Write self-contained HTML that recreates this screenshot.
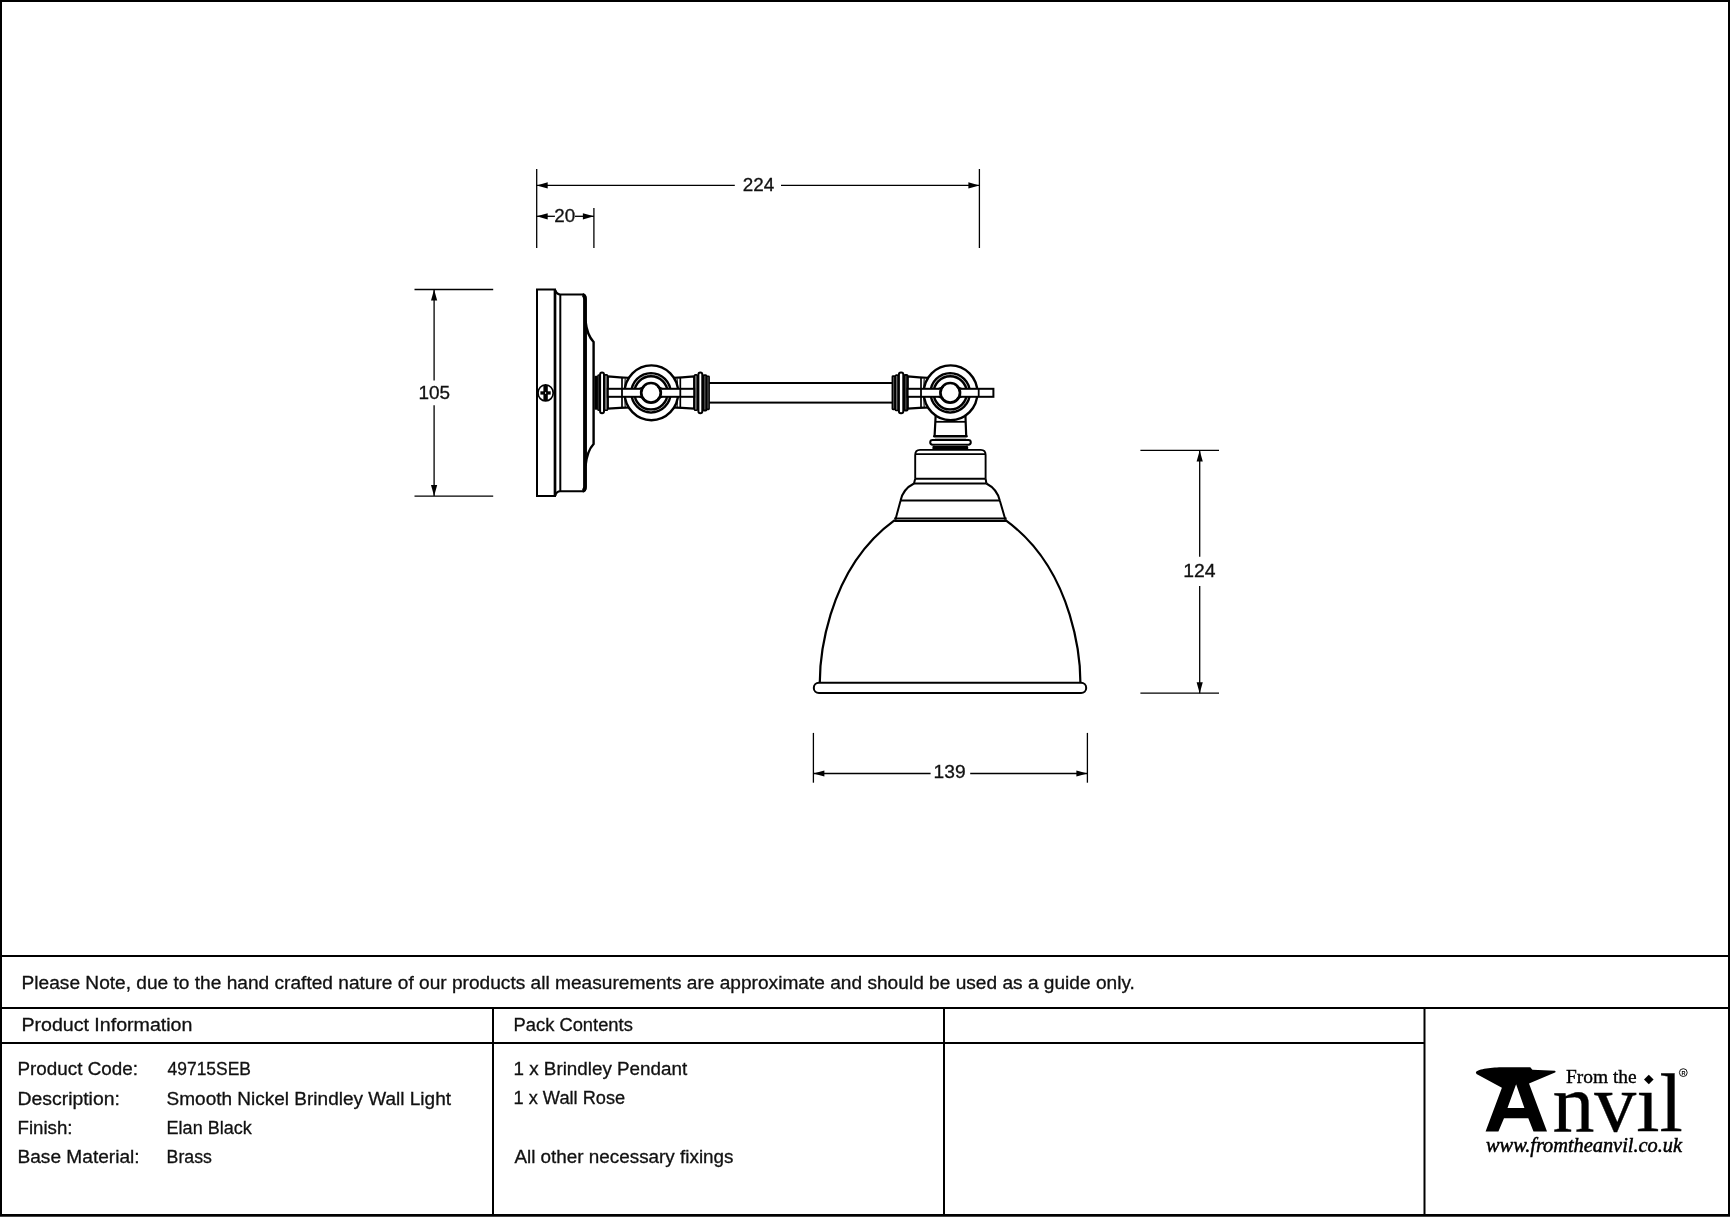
<!DOCTYPE html>
<html><head><meta charset="utf-8"><title>Brindley Wall Light</title>
<style>
html,body{margin:0;padding:0;background:#fff;width:1730px;height:1217px;overflow:hidden;}
svg{position:absolute;left:0;top:0;display:block;}
.t text{font-family:"Liberation Sans",sans-serif;font-size:18px;fill:#111;stroke:#111;stroke-width:0.3px;}
svg{will-change:transform;}
</style></head><body>
<svg width="1730" height="1217" viewBox="0 0 1730 1217">
<rect x="0" y="0" width="1730" height="1217" fill="#fff"/>

<rect x="0" y="0" width="1730" height="2" fill="#000"/>
<rect x="0" y="0" width="2" height="1216" fill="#000"/>
<rect x="1728" y="0" width="2" height="1216" fill="#000"/>
<rect x="0" y="1214" width="1730" height="2" fill="#000"/>
<rect x="0" y="1216" width="1730" height="1" fill="#444"/>
<rect x="0" y="955" width="1730" height="2" fill="#000"/>
<rect x="0" y="1007" width="1730" height="2" fill="#000"/>
<rect x="0" y="1042" width="1424" height="2" fill="#000"/>
<rect x="492" y="1007" width="2" height="208" fill="#000"/>
<rect x="943" y="1007" width="2" height="208" fill="#000"/>
<rect x="1423.5" y="1007" width="2" height="208" fill="#000"/>

<g class="dims">
<line x1="536.7" y1="169" x2="536.7" y2="248" stroke="#000" stroke-width="1.3"/>
<line x1="979.4" y1="169" x2="979.4" y2="248" stroke="#000" stroke-width="1.3"/>
<line x1="536.7" y1="185.4" x2="734.8" y2="185.4" stroke="#000" stroke-width="1.3"/>
<line x1="781" y1="185.4" x2="979.4" y2="185.4" stroke="#000" stroke-width="1.3"/>
<polygon points="536.70,185.40 547.70,182.30 547.70,188.50" fill="#000"/>
<polygon points="979.40,185.40 968.40,182.30 968.40,188.50" fill="#000"/>
<line x1="593.9" y1="208" x2="593.9" y2="248" stroke="#000" stroke-width="1.3"/>
<line x1="536.7" y1="216.3" x2="554.9" y2="216.3" stroke="#000" stroke-width="1.3"/>
<line x1="575" y1="216.3" x2="593.9" y2="216.3" stroke="#000" stroke-width="1.3"/>
<polygon points="536.70,216.30 547.70,213.20 547.70,219.40" fill="#000"/>
<polygon points="593.90,216.30 582.90,213.20 582.90,219.40" fill="#000"/>
<line x1="414.5" y1="289.5" x2="493.2" y2="289.5" stroke="#000" stroke-width="1.3"/>
<line x1="414.5" y1="496.1" x2="493.2" y2="496.1" stroke="#000" stroke-width="1.3"/>
<line x1="434.1" y1="289.5" x2="434.1" y2="380.4" stroke="#000" stroke-width="1.3"/>
<line x1="434.1" y1="405.3" x2="434.1" y2="496.1" stroke="#000" stroke-width="1.3"/>
<polygon points="434.10,289.50 431.00,300.50 437.20,300.50" fill="#000"/>
<polygon points="434.10,496.10 431.00,485.10 437.20,485.10" fill="#000"/>
<line x1="1140.4" y1="450.4" x2="1219" y2="450.4" stroke="#000" stroke-width="1.3"/>
<line x1="1140.4" y1="693.2" x2="1219" y2="693.2" stroke="#000" stroke-width="1.3"/>
<line x1="1199.7" y1="450.4" x2="1199.7" y2="556.8" stroke="#000" stroke-width="1.3"/>
<line x1="1199.7" y1="586" x2="1199.7" y2="693.2" stroke="#000" stroke-width="1.3"/>
<polygon points="1199.70,450.40 1196.60,461.40 1202.80,461.40" fill="#000"/>
<polygon points="1199.70,693.20 1196.60,682.20 1202.80,682.20" fill="#000"/>
<line x1="813.4" y1="732.9" x2="813.4" y2="782.7" stroke="#000" stroke-width="1.3"/>
<line x1="1087.4" y1="732.9" x2="1087.4" y2="782.7" stroke="#000" stroke-width="1.3"/>
<line x1="813.4" y1="773.5" x2="930.6" y2="773.5" stroke="#000" stroke-width="1.3"/>
<line x1="970.2" y1="773.5" x2="1087.4" y2="773.5" stroke="#000" stroke-width="1.3"/>
<polygon points="813.40,773.50 824.40,770.40 824.40,776.60" fill="#000"/>
<polygon points="1087.40,773.50 1076.40,770.40 1076.40,776.60" fill="#000"/>
</g>
<g class="drawing">
<path d="M537,289.6 H555 V496 H537 Z" fill="#fff" stroke="#000" stroke-width="2" />
<path d="M555,289.6 Q556.5,294.4 560.3,294.4 H582 Q585.5,294.4 585.5,298 V487.7 Q585.5,491.3 582,491.3 H560.3 Q556.5,491.3 555,496" fill="#fff" stroke="#000" stroke-width="2" />
<path d="M555,290 V496" fill="none" stroke="#000" stroke-width="2.7" />
<path d="M560.3,294.4 V491.3" fill="none" stroke="#000" stroke-width="2" />
<path d="M582.5,294.9 Q585,295.4 585,299 V486.7 Q585,490.3 582.5,490.8" fill="none" stroke="#000" stroke-width="3.8" />
<path d="M585.5,321 Q587,335 593.6,342 V444 Q587,451 585.5,466" fill="none" stroke="#000" stroke-width="2.4" />
<path d="M545.6,392.9 m-7.6,0 a7.6,8 0 1,0 15.2,0 a7.6,8 0 1,0 -15.2,0" fill="#fff" stroke="#000" stroke-width="1.7" />
<rect x="540.4" y="391.3" width="10.3" height="3.3" fill="#000"/>
<rect x="543.4" y="385" width="4.4" height="15.3" fill="#000"/>
<rect x="545.1" y="392.2" width="1" height="1.6" fill="#fff"/>
<rect x="706" y="383" width="190" height="19.6" fill="#fff" stroke="#000" stroke-width="2"/>
<path d="M607.8,376.4 Q619.9,377.5 632,378.0 L632,407.4 Q619.9,407.9 607.8,408.6 Z" fill="#fff" stroke="#000" stroke-width="2.2" stroke-linejoin="miter"/>
<path d="M694.2,376.4 Q682.1,377.5 670,378.0 L670,407.4 Q682.1,407.9 694.2,408.6 Z" fill="#fff" stroke="#000" stroke-width="2.2" stroke-linejoin="miter"/>
<path d="M907.6,376.4 Q919.3,377.5 931,378.0 L931,407.4 Q919.3,407.9 907.6,408.6 Z" fill="#fff" stroke="#000" stroke-width="2.2" stroke-linejoin="miter"/>
<line x1="622.0" y1="377.8" x2="622.0" y2="407.6" stroke="#000" stroke-width="1.7"/>
<line x1="680.3" y1="377.8" x2="680.3" y2="407.6" stroke="#000" stroke-width="1.7"/>
<line x1="921.0" y1="377.8" x2="921.0" y2="407.6" stroke="#000" stroke-width="1.7"/>
<path d="M625.1999999999999,378.5 Q624.0,392.8 625.1999999999999,407" fill="none" stroke="#000" stroke-width="1.1"/>
<path d="M677.1,378.5 Q678.3,392.8 677.1,407" fill="none" stroke="#000" stroke-width="1.1"/>
<path d="M924.1999999999999,378.5 Q923.0,392.8 924.1999999999999,407" fill="none" stroke="#000" stroke-width="1.1"/>
<ellipse cx="651.4" cy="392.8" rx="26.8" ry="27.4" fill="#fff" stroke="#000" stroke-width="2.4"/>
<circle cx="651.0" cy="392.8" r="19.6" fill="none" stroke="#000" stroke-width="2.5"/>
<circle cx="651.0" cy="392.8" r="18.1" fill="none" stroke="#999" stroke-width="0.8" stroke-dasharray="3 1.5"/>
<circle cx="651.0" cy="392.8" r="16.6" fill="none" stroke="#000" stroke-width="2.4"/>
<ellipse cx="950.6" cy="392.8" rx="26.8" ry="27.4" fill="#fff" stroke="#000" stroke-width="2.4"/>
<circle cx="950.2" cy="392.8" r="19.6" fill="none" stroke="#000" stroke-width="2.5"/>
<circle cx="950.2" cy="392.8" r="18.1" fill="none" stroke="#999" stroke-width="0.8" stroke-dasharray="3 1.5"/>
<circle cx="950.2" cy="392.8" r="16.6" fill="none" stroke="#000" stroke-width="2.4"/>
<rect x="594.5" y="375.8" width="3.3" height="34" rx="1" fill="#000"/>
<rect x="597.9" y="374.9" width="1.80" height="35.40" rx="0.8" fill="#999" stroke="#000" stroke-width="1.5"/>
<rect x="600.1" y="372.4" width="3.90" height="40.80" rx="2" fill="#fff" stroke="#000" stroke-width="2"/>
<rect x="604.5" y="374.9" width="3.00" height="35.40" rx="0.8" fill="#999" stroke="#000" stroke-width="1.6"/>
<rect x="694.5" y="374.9" width="2.80" height="35.40" rx="0.8" fill="#999" stroke="#000" stroke-width="1.6"/>
<rect x="698.4" y="372.4" width="3.90" height="40.80" rx="2" fill="#fff" stroke="#000" stroke-width="2"/>
<rect x="703.1" y="375.1" width="3.40" height="35.40" rx="0.8" fill="#444" stroke="#000" stroke-width="1.8"/>
<rect x="706.9" y="376.2" width="2.20" height="33.20" rx="0.6" fill="#999" stroke="#000" stroke-width="1.6"/>
<rect x="892.4" y="376.2" width="2.60" height="33.20" rx="0.6" fill="#666" stroke="#000" stroke-width="1.7"/>
<rect x="895.5" y="375.1" width="2.60" height="35.40" rx="0.8" fill="#999" stroke="#000" stroke-width="1.6"/>
<rect x="898.9" y="372.4" width="4.40" height="40.80" rx="2" fill="#fff" stroke="#000" stroke-width="2"/>
<rect x="904.1" y="375.1" width="3.40" height="35.40" rx="0.8" fill="#444" stroke="#000" stroke-width="2.0"/>
<rect x="607.8" y="388.8" width="86.40" height="8" fill="#fff" stroke="#000" stroke-width="2"/>
<rect x="907.6" y="388.8" width="85.80" height="8" fill="#fff" stroke="#000" stroke-width="2"/>
<line x1="622.0" y1="388.8" x2="622.0" y2="396.8" stroke="#000" stroke-width="1.8"/>
<line x1="680.3" y1="388.8" x2="680.3" y2="396.8" stroke="#000" stroke-width="1.8"/>
<line x1="921.0" y1="388.8" x2="921.0" y2="396.8" stroke="#000" stroke-width="1.8"/>
<line x1="978.7" y1="388.8" x2="978.7" y2="396.8" stroke="#000" stroke-width="1.8"/>
<path d="M639.9,388.8 Q642.4,388.5 644.4,385.6 Q650.9,380.5 657.4,385.6 Q659.4,388.5 661.9,388.8 L661.9,396.8 Q659.4,397.1 657.4,400 Q650.9,405.1 644.4,400 Q642.4,397.1 639.9,396.8 Z" fill="#fff" stroke="none"/>
<circle cx="651.0" cy="392.8" r="9.8" fill="#fff" stroke="#000" stroke-width="2.7"/>
<path d="M639.4,388.8 Q642.9,388.6 644.1,386" fill="none" stroke="#000" stroke-width="2"/>
<path d="M662.4,388.8 Q658.9,388.6 657.6999999999999,386" fill="none" stroke="#000" stroke-width="2"/>
<path d="M639.4,396.8 Q642.9,397 644.1,399.6" fill="none" stroke="#000" stroke-width="2"/>
<path d="M662.4,396.8 Q658.9,397 657.6999999999999,399.6" fill="none" stroke="#000" stroke-width="2"/>
<path d="M939.1,388.8 Q941.6,388.5 943.6,385.6 Q950.1,380.5 956.6,385.6 Q958.6,388.5 961.1,388.8 L961.1,396.8 Q958.6,397.1 956.6,400 Q950.1,405.1 943.6,400 Q941.6,397.1 939.1,396.8 Z" fill="#fff" stroke="none"/>
<circle cx="950.2" cy="392.8" r="9.8" fill="#fff" stroke="#000" stroke-width="2.7"/>
<path d="M938.6,388.8 Q942.1,388.6 943.3000000000001,386" fill="none" stroke="#000" stroke-width="2"/>
<path d="M961.6,388.8 Q958.1,388.6 956.9,386" fill="none" stroke="#000" stroke-width="2"/>
<path d="M938.6,396.8 Q942.1,397 943.3000000000001,399.6" fill="none" stroke="#000" stroke-width="2"/>
<path d="M961.6,396.8 Q958.1,397 956.9,399.6" fill="none" stroke="#000" stroke-width="2"/>
<path d="M935.7,414.8 L934.6,436 M965.4,414.8 L966.2,436" stroke="#000" stroke-width="2.2" fill="none"/>
<line x1="936" y1="421.8" x2="965" y2="421.8" stroke="#000" stroke-width="1.8"/>
<path d="M934.4,436.3 H966.4" stroke="#000" stroke-width="2.6" stroke-linecap="round"/>
<line x1="935" y1="438.6" x2="966" y2="438.6" stroke="#777" stroke-width="0.6"/>
<rect x="930.2" y="439.9" width="40.6" height="4.9" rx="2.45" fill="#fff" stroke="#000" stroke-width="2"/>
<line x1="935" y1="445.6" x2="966" y2="445.6" stroke="#666" stroke-width="0.6"/>
<rect x="932.4" y="446" width="35.8" height="3.6" rx="1" fill="#000"/>
<path d="M915.2,478.7 V455 Q915.2,449.9 920,449.9 H980.8 Q985.6,449.9 985.6,455 V478.7" fill="#fff" stroke="#000" stroke-width="1.9"/>
<line x1="915.2" y1="454.1" x2="985.6" y2="454.1" stroke="#000" stroke-width="1.9"/>
<line x1="915.2" y1="478.7" x2="985.6" y2="478.7" stroke="#000" stroke-width="2"/>
<path d="M915.2,478.7 L914,483.5 M985.6,478.7 L986.4,483.5" stroke="#000" stroke-width="2" fill="none"/>
<line x1="914" y1="483.5" x2="986.4" y2="483.5" stroke="#000" stroke-width="2"/>
<path d="M914,483.5 Q903,489 900.6,500.5 L895.4,519.7 M986.4,483.5 Q997,489 999.8,500.5 L1005.4,519.7" stroke="#000" stroke-width="2" fill="none"/>
<line x1="900.6" y1="500.5" x2="999.8" y2="500.5" stroke="#000" stroke-width="2"/>
<line x1="894.2" y1="518.6" x2="1006.6" y2="518.6" stroke="#000" stroke-width="2"/>
<line x1="894.2" y1="520.9" x2="1006.6" y2="520.9" stroke="#000" stroke-width="2"/>
<path d="M894.7,520.1 C823.5,571.8 819.8,666.5 819.8,682.5 M1080.40,682.5 C1080.40,666.5 1076.70,571.8 1005.50,520.1" fill="none" stroke="#000" stroke-width="2.2"/>
<rect x="813.8" y="682.8" width="272.4" height="10.2" rx="5.1" fill="#fff" stroke="#000" stroke-width="2"/>
</g>
<g class="t">
<text x="21.60" y="989.00" textLength="1113.30" lengthAdjust="spacingAndGlyphs">Please Note, due to the hand crafted nature of our products all measurements are approximate and should be used as a guide only.</text>
<text x="21.40" y="1031.20" textLength="171.00" lengthAdjust="spacingAndGlyphs">Product Information</text>
<text x="513.60" y="1031.20" textLength="119.20" lengthAdjust="spacingAndGlyphs">Pack Contents</text>
<text x="17.50" y="1074.90" textLength="120.40" lengthAdjust="spacingAndGlyphs">Product Code:</text>
<text x="17.50" y="1104.80" textLength="102.40" lengthAdjust="spacingAndGlyphs">Description:</text>
<text x="17.50" y="1133.70" textLength="55.00" lengthAdjust="spacingAndGlyphs">Finish:</text>
<text x="17.50" y="1163.10" textLength="122.10" lengthAdjust="spacingAndGlyphs">Base Material:</text>
<text x="167.60" y="1074.90" textLength="83.30" lengthAdjust="spacingAndGlyphs">49715SEB</text>
<text x="166.60" y="1104.80" textLength="284.40" lengthAdjust="spacingAndGlyphs">Smooth Nickel Brindley Wall Light</text>
<text x="166.60" y="1133.70" textLength="85.10" lengthAdjust="spacingAndGlyphs">Elan Black</text>
<text x="166.60" y="1163.10" textLength="45.30" lengthAdjust="spacingAndGlyphs">Brass</text>
<text x="513.50" y="1074.90" textLength="173.70" lengthAdjust="spacingAndGlyphs">1 x Brindley Pendant</text>
<text x="513.50" y="1103.90" textLength="111.70" lengthAdjust="spacingAndGlyphs">1 x Wall Rose</text>
<text x="514.40" y="1163.10" textLength="219.10" lengthAdjust="spacingAndGlyphs">All other necessary fixings</text>
<text x="742.80" y="191.10" textLength="31.50" lengthAdjust="spacingAndGlyphs">224</text>
<text x="554.30" y="221.60" textLength="20.90" lengthAdjust="spacingAndGlyphs">20</text>
<text x="418.40" y="399.20" textLength="31.60" lengthAdjust="spacingAndGlyphs">105</text>
<text x="1183.20" y="577.00" textLength="32.30" lengthAdjust="spacingAndGlyphs">124</text>
<text x="933.60" y="778.00" textLength="32.10" lengthAdjust="spacingAndGlyphs">139</text>
</g>

<path d="M1475.9,1072.6 C1476,1069.5 1490,1067.6 1501.2,1067.3 L1530.3,1067.3 L1532.4,1069.7 L1555,1070.8 C1556,1071.5 1555.5,1072.3 1555,1072.5 L1529,1083.6 L1547,1131.4 L1533.5,1131.4 L1528.3,1118.3 L1504,1118.3 L1498.4,1131.4 L1485.6,1131.4 L1501.9,1087.7 L1476.5,1074 Z M1516.1,1084.3 L1507.5,1107.9 L1524.4,1107.9 Z" fill="#000" fill-rule="evenodd"/>
<text x="1566" y="1083" font-family="Liberation Serif, serif" font-size="19" textLength="70.6" lengthAdjust="spacingAndGlyphs" fill="#000" stroke="#000" stroke-width="0.35">From the</text>
<text x="1552.4" y="1131.1" font-family="Liberation Serif, serif" font-size="82" textLength="130.4" lengthAdjust="spacingAndGlyphs" fill="#000" stroke="#000" stroke-width="0.3">nvıl</text>
<rect x="1645.4" y="1076.1" width="6.8" height="6.8" transform="rotate(45 1648.8 1079.5)" fill="#000"/>
<circle cx="1683.3" cy="1072.6" r="3.9" fill="none" stroke="#000" stroke-width="0.9"/>
<text x="1681.6" y="1074.7" font-family="Liberation Sans, sans-serif" font-size="5.5" font-weight="bold" fill="#000">R</text>
<text x="1486" y="1151.6" font-family="Liberation Serif, serif" font-style="italic" font-size="21" textLength="196" lengthAdjust="spacingAndGlyphs" fill="#000" stroke="#000" stroke-width="0.5">www.fromtheanvil.co.uk</text>

</svg>
</body></html>
